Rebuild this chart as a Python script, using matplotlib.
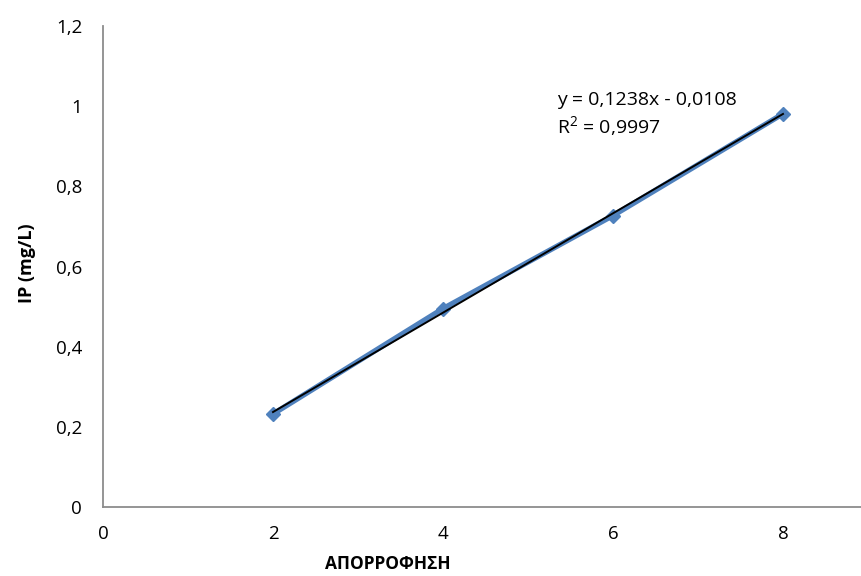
import numpy as np
import matplotlib
matplotlib.use("Agg")
import matplotlib.pyplot as plt

# calibration points
absorbance = [2, 4, 6, 8]
ip_mg_l = [0.232, 0.495, 0.727, 0.981]
x_ticks = [0, 2, 4, 6, 8]
y_ticks = [0, 0.2, 0.4, 0.6, 0.8, 1.0, 1.2]
y_tick_labels = ["0", "0,2", "0,4", "0,6", "0,8", "1", "1,2"]
equation = "y = 0,1238x - 0,0108"
r_squared = "R$^2$ = 0,9997"

plt.rcParams["font.family"] = ["Open Sans", "DejaVu Sans"]
plt.rcParams["mathtext.fontset"] = "custom"
plt.rcParams["mathtext.rm"] = "Open Sans"

fig = plt.figure(figsize=(8.62, 5.76), dpi=100)
ax = fig.add_axes([103 / 862, 69 / 576, 765 / 862, 481 / 576])

ax.plot(absorbance, ip_mg_l, color="#4F81BD", lw=3.8, marker="D", ms=7,
        solid_capstyle="butt", zorder=2)

slope, intercept = np.polyfit(absorbance, ip_mg_l, 1)
xs = np.array([absorbance[0], absorbance[-1]])
ax.plot(xs, slope * xs + intercept, color="black", lw=1.4, zorder=3)

ax.set_xlim(0, 9)
ax.set_ylim(0, 1.2)
ax.set_xticks(x_ticks)
ax.set_yticks(y_ticks)
ax.set_yticklabels(y_tick_labels)
ax.tick_params(length=0, labelsize=13.5, colors="black")
ax.tick_params(axis="x", pad=13)
ax.tick_params(axis="y", pad=15)
for side in ("top", "right"):
    ax.spines[side].set_visible(False)
for side in ("left", "bottom"):
    ax.spines[side].set_color("#8C8C8C")
    ax.spines[side].set_linewidth(1.3)

fig.text(557 / 862, 1 - 100 / 576, equation, fontsize=14, va="center")
fig.text(557 / 862, 1 - 127 / 576, r_squared, fontsize=14, va="center")

fig.text(27 / 862, 1 - 263 / 576, "IP (mg/L)", rotation=90, fontsize=13,
         fontweight="bold", ha="center", va="center")
fig.text(388 / 862, 1 - 564 / 576, "ΑΠΟΡΡΟΦΗΣΗ", fontsize=12.5,
         fontweight="bold", ha="center", va="center")

fig.savefig("out.png", dpi=100)
